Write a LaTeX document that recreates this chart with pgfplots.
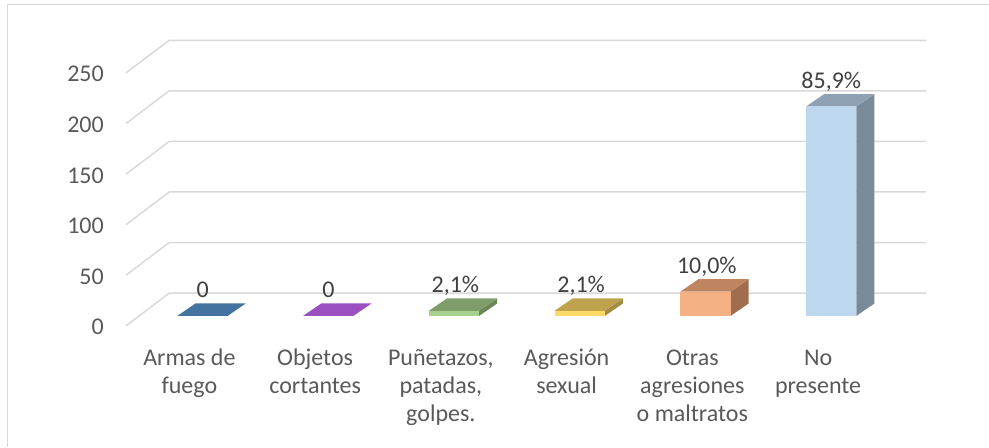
\documentclass[border=0pt]{standalone}
\usepackage{pgfplots}
\pgfplotsset{compat=1.18}
\usepackage{fontspec}
\setmainfont{Carlito}
\definecolor{gridc}{HTML}{D9D9D9}
\definecolor{txt}{HTML}{595959}
\definecolor{lbl}{HTML}{404040}
\definecolor{bTop}{HTML}{44739F}
\definecolor{pTop}{HTML}{9A50C0}
\definecolor{gFront}{HTML}{A9D18E}
\definecolor{gTop}{HTML}{7F9C6B}
\definecolor{gSide}{HTML}{6B8759}
\definecolor{yFront}{HTML}{FFD966}
\definecolor{yTop}{HTML}{BFA24D}
\definecolor{ySide}{HTML}{A48B42}
\definecolor{oFront}{HTML}{F4B183}
\definecolor{oTop}{HTML}{BF8560}
\definecolor{oSide}{HTML}{A06E4E}
\definecolor{lFront}{HTML}{BDD7EE}
\definecolor{lTop}{HTML}{8EA2B3}
\definecolor{lSide}{HTML}{798A99}
\begin{document}
\begin{tikzpicture}
\begin{axis}[
  width=989pt, height=447pt, scale only axis,
  xmin=-1.6113, xmax=6.2504, ymin=-129.45, ymax=312.25,
  hide axis, clip=false,
]
% fixed picture area
\path (axis cs:-1.6113,-129.45) rectangle (axis cs:6.2504,312.25);
% chart border (left and top visible)
\draw[gridc, line width=1pt] (axis cs:-1.553,-129.45) -- (axis cs:-1.553,307.3) -- (axis cs:6.2504,307.3);
% gridlines: front-left diagonal + back wall
\draw[gridc, line width=1.5pt] (axis cs:-0.6097,-9.88) -- (axis cs:-0.2655,22.43) -- (axis cs:5.755,22.43);
\draw[gridc, line width=1.5pt] (axis cs:-0.6097,40.12) -- (axis cs:-0.2655,72.43) -- (axis cs:5.755,72.43);
\draw[gridc, line width=1.5pt] (axis cs:-0.6097,90.12) -- (axis cs:-0.2655,122.43) -- (axis cs:5.755,122.43);
\draw[gridc, line width=1.5pt] (axis cs:-0.6097,140.12) -- (axis cs:-0.2655,172.43) -- (axis cs:5.755,172.43);
\draw[gridc, line width=1.5pt] (axis cs:-0.6097,190.12) -- (axis cs:-0.2655,222.43) -- (axis cs:5.755,222.43);
\draw[gridc, line width=1.5pt] (axis cs:-0.6097,240.12) -- (axis cs:-0.2655,272.43) -- (axis cs:5.755,272.43);
% y tick labels
\begin{scope}[every node/.style={anchor=base east, inner sep=0pt, text=txt, font=\fontsize{24}{28.5}\selectfont}]
\node at (axis cs:-0.7846,-18.8) {0};
\node at (axis cs:-0.7846,31.2) {50};
\node at (axis cs:-0.7846,81.2) {100};
\node at (axis cs:-0.7846,131.2) {150};
\node at (axis cs:-0.7846,181.2) {200};
\node at (axis cs:-0.7846,231.2) {250};
\end{scope}
% Bar 1: Armas de fuego (0)
\addplot[fill=bTop, draw=none] coordinates {(-0.2,0) (0.2,0) (0.343,12.2) (-0.057,12.2)} --cycle;
% Bar 2: Objetos cortantes (0)
\addplot[fill=pTop, draw=none] coordinates {(0.8,0) (1.2,0) (1.343,12.2) (0.943,12.2)} --cycle;
% Bar 3: Puñetazos (5)
\addplot[fill=gSide, draw=none] coordinates {(2.2,0) (2.343,12.2) (2.343,17.2) (2.2,5)} --cycle;
\addplot[fill=gTop, draw=none] coordinates {(1.8,5) (2.2,5) (2.343,17.2) (1.943,17.2)} --cycle;
\addplot[ybar, bar width=0.4, bar shift=0pt, fill=gFront, draw=none] coordinates {(2,5)};
% Bar 4: Agresión sexual (5)
\addplot[fill=ySide, draw=none] coordinates {(3.2,0) (3.343,12.2) (3.343,17.2) (3.2,5)} --cycle;
\addplot[fill=yTop, draw=none] coordinates {(2.8,5) (3.2,5) (3.343,17.2) (2.943,17.2)} --cycle;
\addplot[ybar, bar width=0.4, bar shift=0pt, fill=yFront, draw=none] coordinates {(3,5)};
% Bar 5: Otras agresiones (24)
\addplot[fill=oSide, draw=none] coordinates {(4.2,0) (4.343,12.2) (4.343,36.2) (4.2,24)} --cycle;
\addplot[fill=oTop, draw=none] coordinates {(3.8,24) (4.2,24) (4.343,36.2) (3.943,36.2)} --cycle;
\addplot[ybar, bar width=0.4, bar shift=0pt, fill=oFront, draw=none] coordinates {(4,24)};
% Bar 6: No presente (207)
\addplot[fill=lSide, draw=none] coordinates {(5.2,0) (5.343,12.2) (5.343,219.2) (5.2,207)} --cycle;
\addplot[fill=lTop, draw=none] coordinates {(4.8,207) (5.2,207) (5.343,219.2) (4.943,219.2)} --cycle;
\addplot[ybar, bar width=0.4, bar shift=0pt, fill=lFront, draw=none] coordinates {(5,207)};
% data labels
\begin{scope}[every node/.style={anchor=base, inner sep=0pt, text=lbl, font=\fontsize{24}{28.5}\selectfont}]
\node at (axis cs:0,18.5) {0};
\node at (axis cs:1,18.5) {0};
\node at (axis cs:2.01,23.5) {2,1\%};
\node at (axis cs:3.01,23.5) {2,1\%};
\node at (axis cs:4.01,42.3) {10,0\%};
\node at (axis cs:5,224.8) {85,9\%};
\end{scope}
% category labels
\begin{scope}[every node/.style={anchor=north, inner sep=0pt, align=center, text=txt, font=\fontsize{24}{28.5}\selectfont}]
\node at (axis cs:-0.105,-28.7) {\strut Armas de\\\strut fuego};
\node at (axis cs:0.895,-28.7) {\strut Objetos\\\strut cortantes};
\node at (axis cs:1.895,-28.7) {\strut Puñetazos,\\\strut patadas,\\\strut golpes.};
\node at (axis cs:2.895,-28.7) {\strut Agresión\\\strut sexual};
\node at (axis cs:3.895,-28.7) {\strut Otras\\\strut agresiones\\\strut o maltratos};
\node at (axis cs:4.895,-28.7) {\strut No\\\strut presente};
\end{scope}
\end{axis}
\end{tikzpicture}
\end{document}
